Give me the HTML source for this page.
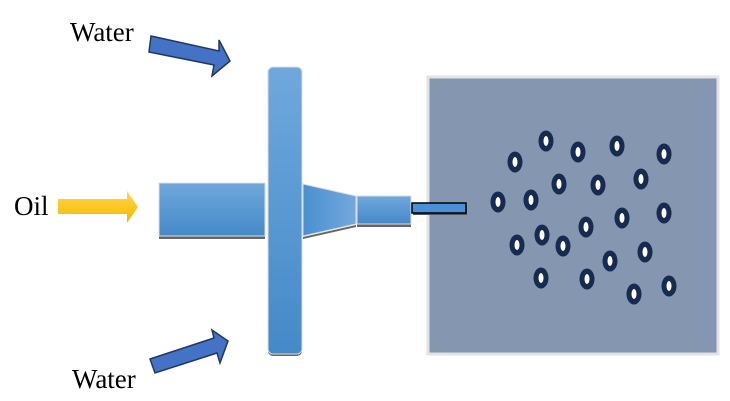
<!DOCTYPE html>
<html><head><style>
html,body{margin:0;padding:0;background:#fff;}
body{width:730px;height:401px;overflow:hidden;position:relative;}
</style></head><body>
<svg width="730" height="401" viewBox="0 0 730 401" xmlns="http://www.w3.org/2000/svg" style="position:absolute;left:0;top:0">
<defs>
<linearGradient id="gv" x1="0" y1="0" x2="0" y2="1"><stop offset="0" stop-color="#6fa8dc"/><stop offset="1" stop-color="#4589c8"/></linearGradient>
<linearGradient id="gc" x1="0" y1="0" x2="1" y2="0"><stop offset="0" stop-color="#4a8fd0"/><stop offset="1" stop-color="#74a9dc"/></linearGradient>
<linearGradient id="gy" x1="0" y1="0" x2="0" y2="1"><stop offset="0" stop-color="#ffd84a"/><stop offset="1" stop-color="#f5b800"/></linearGradient>
<g id="d"><ellipse rx="7.5" ry="10.5" fill="#172b50"/><ellipse rx="2.5" ry="5" fill="#fff"/></g>
</defs>
<text x="70" y="41" font-family="Liberation Serif, serif" font-size="27">Water</text>
<text x="14" y="215" font-family="Liberation Serif, serif" font-size="27">Oil</text>
<text x="72" y="388" font-family="Liberation Serif, serif" font-size="27">Water</text>
<polygon points="151,36 219,51 219,40 230,61 212,76 214,65 149,52" fill="#4472c4" stroke="#1f3864" stroke-width="1.5"/>
<polygon points="150,359 214,338 212,330 228,341 220,363 217,353 155,373" fill="#4472c4" stroke="#1f3864" stroke-width="1.5"/>
<polygon points="58,199 127,199 127,191 138,207 127,223 127,214 58,214" fill="url(#gy)"/>
<rect x="159" y="236" width="106" height="3" fill="#666"/>
<rect x="159" y="183" width="106" height="53" fill="url(#gv)" stroke="#ddd" stroke-width="1"/>
<rect x="268" y="68" width="34" height="288" rx="5" fill="#666"/>
<rect x="268" y="67" width="34" height="287" rx="5" fill="url(#gv)" stroke="#ddd" stroke-width="1"/>
<polygon points="303,237 356,225 356,227 303,239" fill="#666"/>
<polygon points="303,184 356,196 356,224 303,236" fill="url(#gc)" stroke="#ddd" stroke-width="1"/>
<rect x="357" y="224" width="54" height="3" fill="#666"/>
<rect x="357" y="196" width="54" height="28" fill="url(#gv)" stroke="#ddd" stroke-width="1"/>
<rect x="428" y="77" width="290" height="277" fill="#8496b0" stroke="#e3e3e3" stroke-width="3"/>
<rect x="413" y="205" width="54" height="10" fill="#555"/>
<rect x="412" y="203" width="54" height="10" fill="#4a90d9" stroke="#000" stroke-width="1.5"/>
<use href="#d" x="546" y="141"/><use href="#d" x="515" y="162"/><use href="#d" x="578" y="152"/>
<use href="#d" x="617" y="146"/><use href="#d" x="664" y="154"/><use href="#d" x="559" y="184"/>
<use href="#d" x="598" y="185"/><use href="#d" x="641" y="179"/><use href="#d" x="498" y="202"/>
<use href="#d" x="531" y="200"/><use href="#d" x="664" y="213"/><use href="#d" x="622" y="218"/>
<use href="#d" x="586" y="227"/><use href="#d" x="542" y="235"/><use href="#d" x="517" y="245"/>
<use href="#d" x="563" y="246"/><use href="#d" x="610" y="261"/><use href="#d" x="645" y="252"/>
<use href="#d" x="541" y="278"/><use href="#d" x="587" y="279"/><use href="#d" x="634" y="294"/>
<use href="#d" x="669" y="286"/>
</svg>
</body></html>
